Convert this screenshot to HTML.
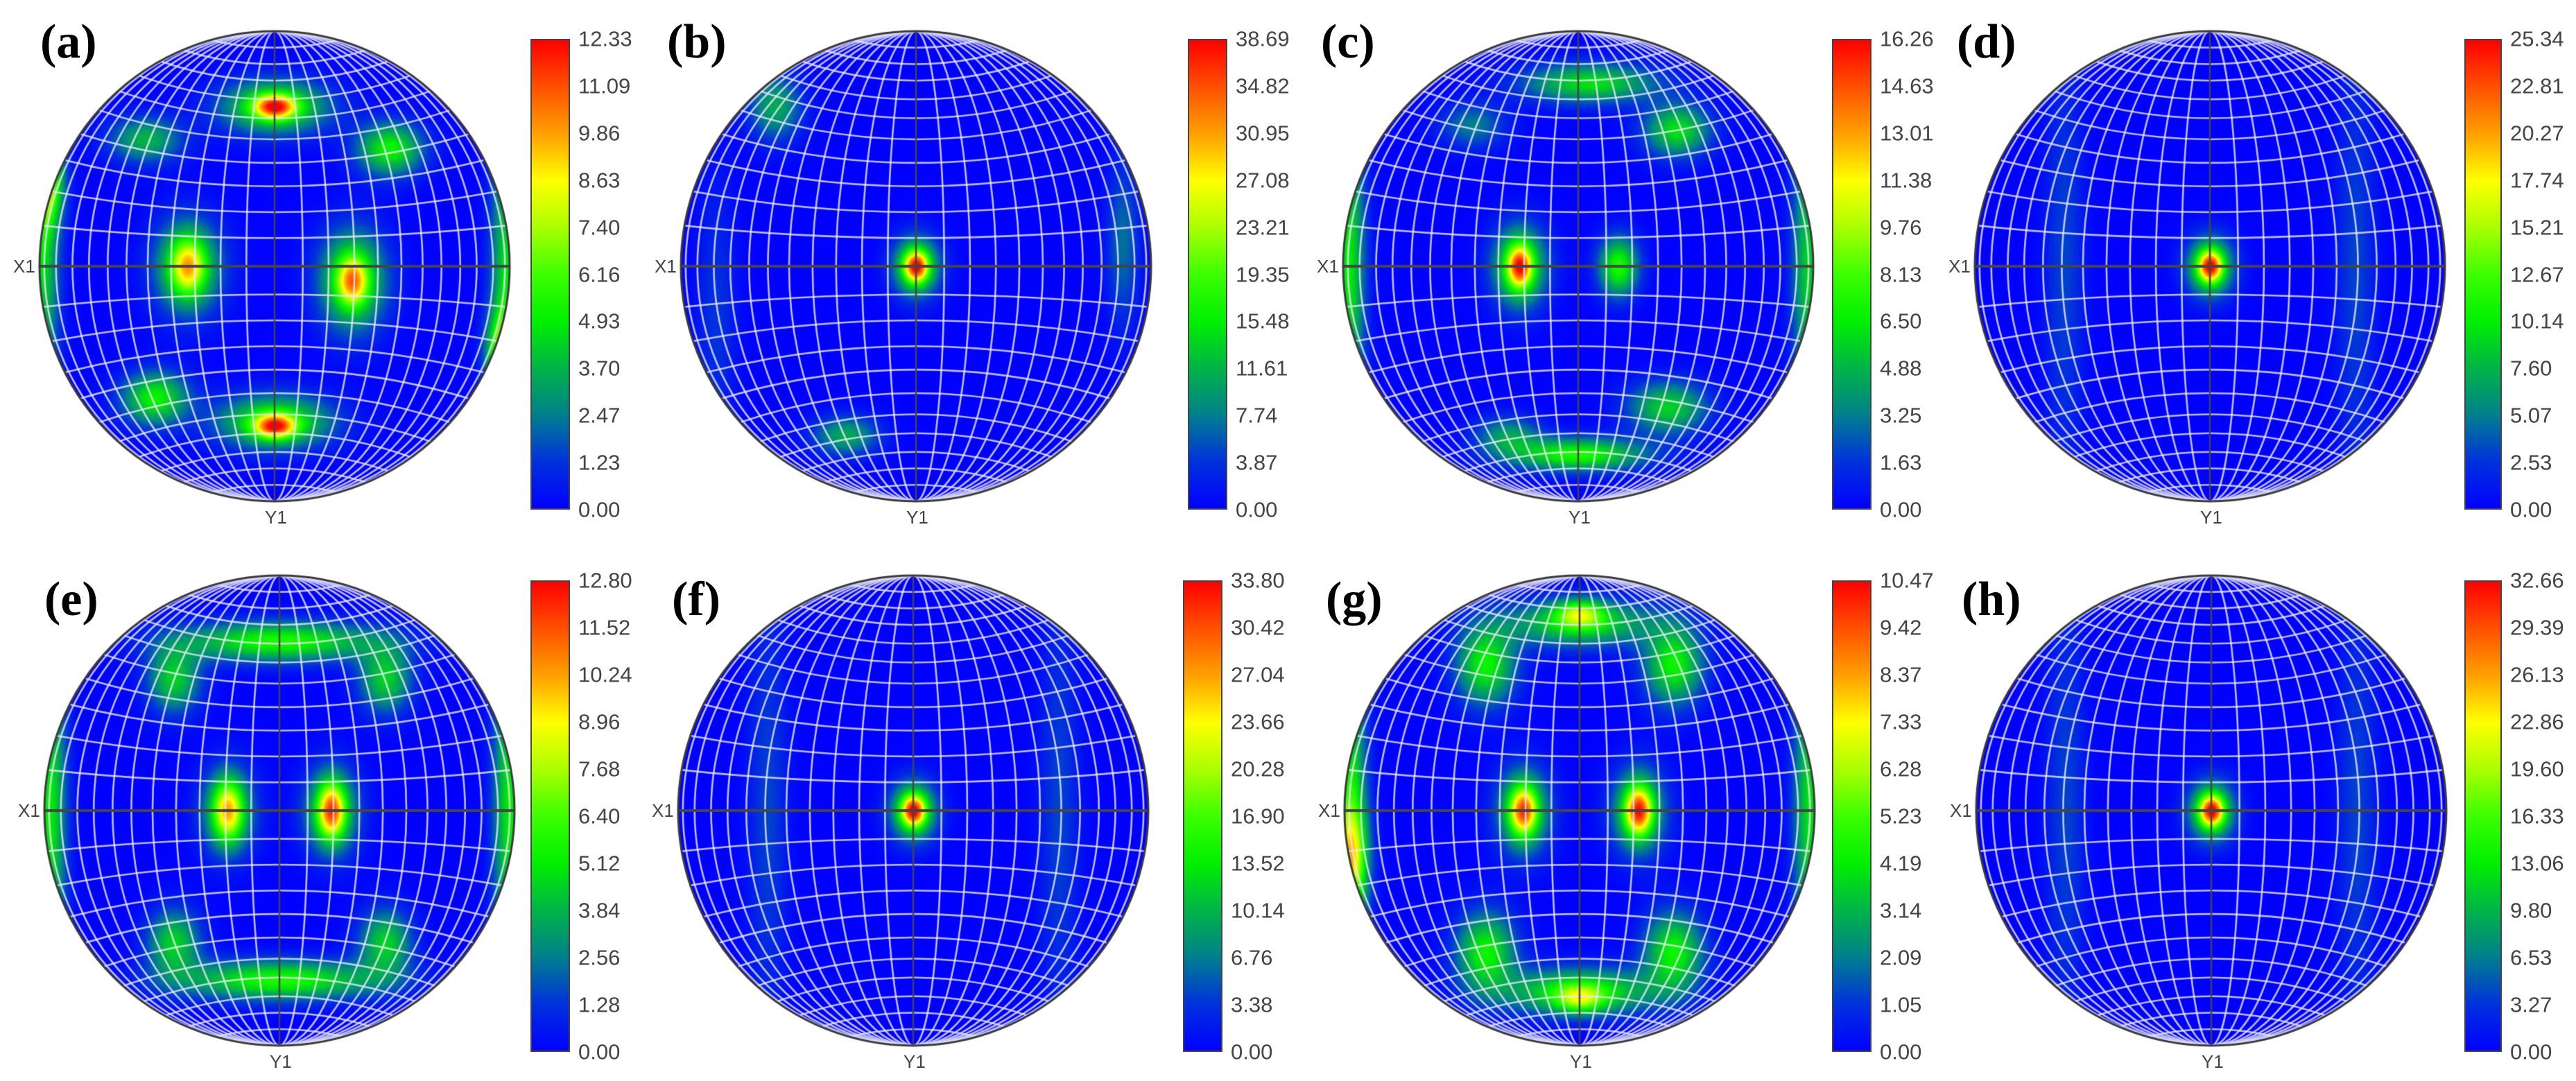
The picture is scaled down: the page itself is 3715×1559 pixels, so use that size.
<!DOCTYPE html>
<html><head><meta charset="utf-8">
<style>
html,body{margin:0;padding:0;background:#fff;}
#wrap{position:relative;width:3715px;height:1559px;overflow:hidden;background:#fff;}
canvas{position:absolute;left:0;top:0;}
.plabel{position:absolute;font-family:"Liberation Serif",serif;font-weight:bold;font-size:70px;line-height:1;color:#000;}
.axl{position:absolute;font-family:"Liberation Sans",sans-serif;font-size:26px;color:#444;line-height:1;}
.tick{position:absolute;font-family:"Liberation Sans",sans-serif;font-size:31px;color:#444;line-height:1;transform:translateY(-50%);}
.cbar{position:absolute;border:2px solid #444;box-sizing:border-box;
background:linear-gradient(to top,rgb(0,0,255) 0%,rgb(0,50,220) 10%,rgb(0,128,140) 20%,rgb(0,180,70) 30%,rgb(0,240,0) 40%,rgb(60,255,0) 50%,rgb(170,255,0) 60%,rgb(255,255,0) 70%,rgb(255,160,0) 80%,rgb(255,80,0) 90%,rgb(255,0,0) 100%);}
</style></head>
<body>
<div id="wrap">
<canvas id="cv" width="3715" height="1559"></canvas>
<div class="plabel" style="left:58px;top:26px">(a)</div>
<div class="plabel" style="left:962px;top:26px">(b)</div>
<div class="plabel" style="left:1905px;top:26px">(c)</div>
<div class="plabel" style="left:2822px;top:26px">(d)</div>
<div class="plabel" style="left:64px;top:830px">(e)</div>
<div class="plabel" style="left:969px;top:830px">(f)</div>
<div class="plabel" style="left:1912px;top:830px">(g)</div>
<div class="plabel" style="left:2829px;top:830px">(h)</div>
</div>
<script>
// ---- data ----
const panelIds = ["a","b","c","d","e","f","g","h"];
const tickA = ["12.33","11.09","9.86","8.63","7.40","6.16","4.93","3.70","2.47","1.23","0.00"];
const tickB = ["38.69","34.82","30.95","27.08","23.21","19.35","15.48","11.61","7.74","3.87","0.00"];
const tickC = ["16.26","14.63","13.01","11.38","9.76","8.13","6.50","4.88","3.25","1.63","0.00"];
const tickD = ["25.34","22.81","20.27","17.74","15.21","12.67","10.14","7.60","5.07","2.53","0.00"];
const tickE = ["12.80","11.52","10.24","8.96","7.68","6.40","5.12","3.84","2.56","1.28","0.00"];
const tickF = ["33.80","30.42","27.04","23.66","20.28","16.90","13.52","10.14","6.76","3.38","0.00"];
const tickG = ["10.47","9.42","8.37","7.33","6.28","5.23","4.19","3.14","2.09","1.05","0.00"];
const tickH = ["32.66","29.39","26.13","22.86","19.60","16.33","13.06","9.80","6.53","3.27","0.00"];
// blobs: [x, y (normalized to radius), sigmaX, sigmaY, peak fraction]
const blobsA = [[0,-0.68,0.06,0.035,0.62],[0,-0.68,0.16,0.08,0.45],[0,0.68,0.06,0.035,0.62],[0,0.66,0.17,0.08,0.45],
 [-0.37,0,0.05,0.08,0.4],[-0.37,0,0.1,0.14,0.42],[0.33,0.06,0.045,0.07,0.45],[0.33,0.06,0.1,0.15,0.45],
 [0.49,-0.5,0.1,0.08,0.42],[-0.55,-0.54,0.11,0.07,0.3],[-0.51,0.56,0.1,0.08,0.42],
 [-0.97,-0.36,0.05,0.12,0.45],[-0.99,-0.1,0.05,0.5,0.38],[0.97,0.37,0.05,0.12,0.45],[0.99,0.05,0.05,0.5,0.38]];
const blobsB = [[0,0,0.035,0.045,0.6],[0,0,0.07,0.09,0.45],[-0.6,-0.68,0.08,0.1,0.28],[-0.3,0.72,0.1,0.06,0.28],
 [0.88,-0.1,0.05,0.25,0.18],[-0.85,0.2,0.06,0.4,0.1]];
const blobsC = [[-0.25,0,0.035,0.06,0.55],[-0.25,0,0.08,0.12,0.48],[0.17,0,0.06,0.09,0.45],
 [0.05,-0.78,0.2,0.06,0.38],[0.42,-0.58,0.1,0.08,0.38],[-0.45,-0.6,0.1,0.07,0.2],
 [0,0.8,0.2,0.05,0.45],[0.38,0.6,0.12,0.08,0.35],[-0.3,0.72,0.1,0.06,0.25],
 [-0.98,0,0.05,0.5,0.4],[0.98,0,0.05,0.45,0.35]];
const blobsD = [[0,0,0.035,0.045,0.6],[0,0,0.07,0.09,0.45],[-0.62,0,0.06,0.7,0.12],[0.62,0,0.06,0.7,0.12]];
const blobsE = [[-0.22,0,0.045,0.09,0.45],[-0.22,0,0.08,0.13,0.35],[0.22,0,0.04,0.08,0.55],[0.22,0,0.08,0.13,0.4],
 [0,-0.72,0.3,0.06,0.45],[-0.45,-0.56,0.08,0.1,0.35],[0.45,-0.56,0.08,0.1,0.35],
 [0,0.72,0.3,0.06,0.45],[-0.45,0.56,0.08,0.1,0.35],[0.45,0.56,0.08,0.1,0.35],
 [-0.98,0,0.05,0.55,0.4],[0.98,0,0.05,0.55,0.4]];
const blobsF = [[0,0,0.035,0.045,0.6],[0,0,0.07,0.09,0.45],[-0.62,0,0.06,0.7,0.12],[0.62,0,0.06,0.7,0.12]];
const blobsG = [[-0.24,0,0.04,0.07,0.55],[-0.24,0,0.08,0.13,0.4],[0.25,0,0.04,0.07,0.6],[0.25,0,0.08,0.13,0.4],
 [0,-0.84,0.07,0.04,0.35],[0,-0.8,0.22,0.07,0.4],[-0.4,-0.62,0.09,0.12,0.42],[0.4,-0.62,0.09,0.12,0.42],
 [0,0.8,0.07,0.04,0.3],[0,0.77,0.22,0.07,0.45],[-0.4,0.6,0.09,0.12,0.42],[0.4,0.6,0.09,0.12,0.42],
 [-0.97,0.2,0.05,0.15,0.4],[-0.98,0,0.05,0.55,0.42],[0.98,0,0.05,0.5,0.38]];
const blobsH = [[0,0,0.035,0.045,0.6],[0,0,0.07,0.09,0.45],[-0.62,0,0.06,0.7,0.12],[0.62,0,0.06,0.7,0.12]];
// colormap
const cmPos = [0,0.1,0.2,0.3,0.4,0.5,0.6,0.7,0.8,0.9,1];
const cmR = [0,0,0,0,0,60,170,255,255,255,255];
const cmG = [0,50,128,180,240,255,255,255,160,80,0];
const cmB = [255,220,140,70,0,0,0,0,0,0,0];
// net line positions (normalized)
const netPos = [0.12,0.23,0.34,0.44,0.54,0.63,0.71,0.79,0.86,0.93,0.98];

// ---- layout ----
const layout = [
 {cx:396,cy:384,R:339,cb:[765,56,57,679]},
 {cx:1321,cy:384,R:339,cb:[1713,56,57,679]},
 {cx:2276,cy:384,R:339,cb:[2642,56,57,679]},
 {cx:3187,cy:384,R:339,cb:[3554,56,54,679]},
 {cx:403,cy:1169,R:339,cb:[765,837,57,680]},
 {cx:1317,cy:1169,R:339,cb:[1706,837,57,680]},
 {cx:2278,cy:1169,R:339,cb:[2642,837,57,680]},
 {cx:3189,cy:1169,R:339,cb:[3554,837,54,680]}
];
const allBlobs=[blobsA,blobsB,blobsC,blobsD,blobsE,blobsF,blobsG,blobsH];
const allTicks=[tickA,tickB,tickC,tickD,tickE,tickF,tickG,tickH];

function cmap(v){
  v=Math.max(0,Math.min(1,v));
  for(let i=0;i<cmPos.length-1;i++){
    if(v<=cmPos[i+1]){
      const t=(v-cmPos[i])/(cmPos[i+1]-cmPos[i]);
      return [cmR[i]+(cmR[i+1]-cmR[i])*t,cmG[i]+(cmG[i+1]-cmG[i])*t,cmB[i]+(cmB[i+1]-cmB[i])*t];
    }
  }
  return [255,0,0];
}
const cv=document.getElementById('cv');
const ctx=cv.getContext('2d');
ctx.fillStyle='#fff';ctx.fillRect(0,0,3715,1559);
const wrap=document.getElementById('wrap');

layout.forEach((L,pi)=>{
  const blobs=allBlobs[pi];
  const {cx,cy,R}=L;
  const x0=Math.round(cx-R), y0=Math.round(cy-R), S=Math.round(2*R)+1;
  const img=ctx.getImageData(x0,y0,S,S);
  const d=img.data;
  for(let j=0;j<S;j++){
    const ny=(y0+j-cy)/R;
    for(let i=0;i<S;i++){
      const nx=(x0+i-cx)/R;
      if(nx*nx+ny*ny>1) continue;
      let v=0;
      for(const b of blobs){
        const dx=(nx-b[0])/b[2], dy=(ny-b[1])/b[3];
        const e=(dx*dx+dy*dy)/2;
        if(e<12) v+=b[4]*Math.exp(-e);
      }
      const c=cmap(v);
      const k=(j*S+i)*4;
      d[k]=c[0];d[k+1]=c[1];d[k+2]=c[2];d[k+3]=255;
    }
  }
  ctx.putImageData(img,x0,y0);
  // grid
  ctx.save();
  ctx.beginPath();ctx.arc(cx,cy,R,0,Math.PI*2);ctx.clip();
  ctx.strokeStyle='rgba(232,232,245,0.82)';ctx.lineWidth=2.6;
  // meridians: ellipses through poles
  netPos.forEach(p=>{
    ctx.beginPath();ctx.ellipse(cx,cy,p*R,R,0,0,Math.PI*2);ctx.stroke();
  });
  // parallels: arcs through (0,y0) meeting rim at ye
  netPos.forEach(p=>{
    if(p>0.97) return;
    const ye=Math.min(0.995,p+0.5*p*(1-p));
    const yc=(1-p*p)/(2*(ye-p));
    const r=Math.abs(p-yc);
    [1,-1].forEach(s=>{
      ctx.beginPath();ctx.arc(cx,cy+s*yc*R,r*R,0,Math.PI*2);ctx.stroke();
    });
  });
  ctx.restore();
  // axes
  ctx.strokeStyle='#454545';
  ctx.lineWidth=4;ctx.beginPath();ctx.moveTo(cx-R,cy);ctx.lineTo(cx+R,cy);ctx.stroke();
  ctx.lineWidth=2.5;ctx.beginPath();ctx.moveTo(cx,cy-R);ctx.lineTo(cx,cy+R);ctx.stroke();
  ctx.lineWidth=3;ctx.strokeStyle='#3a3a3a';ctx.beginPath();ctx.arc(cx,cy,R,0,Math.PI*2);ctx.stroke();

  // axis labels
  const xl=document.createElement('div');
  xl.className='axl';xl.textContent='X1';
  xl.style.left=(cx-R-38)+'px';xl.style.top=(cy-13)+'px';
  
  
  wrap.appendChild(xl);
  const yl=document.createElement('div');
  yl.className='axl';yl.textContent='Y1';
  yl.style.left=(cx-14)+'px';yl.style.top=(cy+R+10)+'px';
  
  
  wrap.appendChild(yl);

  // colorbar
  const [bx,by,bw,bh]=L.cb;
  const cb=document.createElement('div');
  cb.className='cbar';
  cb.style.left=bx+'px';cb.style.top=by+'px';cb.style.width=bw+'px';cb.style.height=bh+'px';
  
  
  wrap.appendChild(cb);
  const ticks=allTicks[pi];
  ticks.forEach((t,ti)=>{
    const tl=document.createElement('div');
    tl.className='tick';tl.textContent=t;
    tl.style.left=(bx+bw+12)+'px';
    tl.style.top=(by+ti*bh/(ticks.length-1))+'px';
    
    
    wrap.appendChild(tl);
  });
});
</script>
</body></html>
